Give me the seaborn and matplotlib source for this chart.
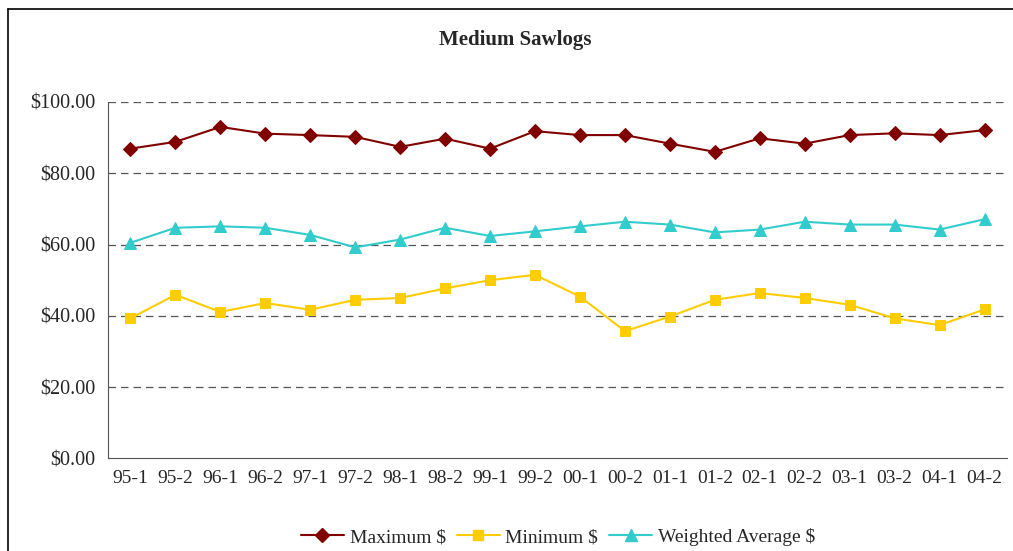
import pandas as pd
import matplotlib.pyplot as plt
import seaborn as sns
from matplotlib.lines import Line2D

# data
periods = ['95-1', '95-2', '96-1', '96-2', '97-1', '97-2', '98-1', '98-2', '99-1', '99-2',
           '00-1', '00-2', '01-1', '01-2', '02-1', '02-2', '03-1', '03-2', '04-1', '04-2']
maximum = [86.9, 88.8, 93.0, 91.1, 90.7, 90.2, 87.4, 89.7, 86.9, 91.8,
           90.7, 90.7, 88.3, 86.0, 89.8, 88.3, 90.7, 91.2, 90.7, 92.1]
minimum = [39.3, 45.9, 41.1, 43.6, 41.7, 44.5, 45.0, 47.7, 50.0, 51.5,
           45.4, 35.7, 39.8, 44.5, 46.4, 45.0, 43.1, 39.3, 37.4, 41.8]
weighted = [60.5, 64.7, 65.1, 64.7, 62.7, 59.2, 61.4, 64.7, 62.4, 63.7,
            65.1, 66.4, 65.6, 63.4, 64.2, 66.4, 65.6, 65.6, 64.2, 67.1]
series_names = ['Maximum $', 'Minimum $', 'Weighted Average $']
yticks = [0, 20, 40, 60, 80, 100]

df = pd.DataFrame({'Period': periods * 3,
                   'Price': maximum + minimum + weighted,
                   'Series': [s for s in series_names for _ in periods]})

sns.set_style('white')
plt.rcParams['font.family'] = ['Liberation Serif', 'DejaVu Serif']

colors = {'Maximum $': '#800000', 'Minimum $': '#FFCC00', 'Weighted Average $': '#33CCCC'}
marks = {'Maximum $': 'D', 'Minimum $': 's', 'Weighted Average $': '^'}
msize = {'Maximum $': 7, 'Minimum $': 7, 'Weighted Average $': 8.5}

fig = plt.figure(figsize=(10.13, 5.51), dpi=100)
ax = fig.add_axes([0.1066, 0.168, 0.8875, 0.647])

for name in series_names:
    sub = df[df['Series'] == name]
    sns.lineplot(data=sub, x='Period', y='Price', ax=ax, color=colors[name],
                 marker=marks[name], markersize=msize[name], markeredgecolor=colors[name],
                 linewidth=1.5, label=name, legend=False)

ax.set_xlim(-0.5, len(periods) - 0.5)
ax.set_ylim(0, 100)
ax.set_yticks(yticks)
ax.set_yticklabels([f'${v:.2f}' for v in yticks], fontsize=14.5)
for v in yticks[1:]:
    ax.axhline(v, color='#555555', lw=0.9, ls=(0, (6, 4)), zorder=0)

# ticks between categories, labels centred
ax.set_xticks([i - 0.5 for i in range(len(periods) + 1)])
ax.set_xticklabels([])
ax.set_xticks(range(len(periods)), minor=True)
ax.set_xticklabels(periods, minor=True, fontsize=14)
ax.tick_params(axis='x', which='minor', length=0, pad=8)
ax.tick_params(axis='x', which='major', direction='out', length=5, color='#555555')
ax.tick_params(axis='y', direction='out', length=5, color='#555555', pad=4)
ax.set_xlabel('')
ax.set_ylabel('')
for side in ['top', 'right']:
    ax.spines[side].set_visible(False)
ax.spines['left'].set_color('#555555')
ax.spines['bottom'].set_color('#555555')

fig.text(0.509, 0.927, 'Medium Sawlogs', ha='center', va='center',
         fontsize=15, fontweight='bold')

handles = [Line2D([], [], color=colors[n], marker=marks[n], markersize=msize[n],
                  linewidth=1.5) for n in series_names]
fig.legend(handles, series_names, loc='center', bbox_to_anchor=(0.551, 0.025),
           ncol=3, frameon=False, fontsize=14, handlelength=2.2, columnspacing=0.57,
           handletextpad=0.3)

# chart-area border on left and top
fig.add_artist(Line2D([0.0075, 0.0075], [0.0, 0.984], color='black', lw=1.2,
                      transform=fig.transFigure))
fig.add_artist(Line2D([0.0075, 1.0], [0.984, 0.984], color='black', lw=1.2,
                      transform=fig.transFigure))

fig.savefig('out.png', dpi=100)
